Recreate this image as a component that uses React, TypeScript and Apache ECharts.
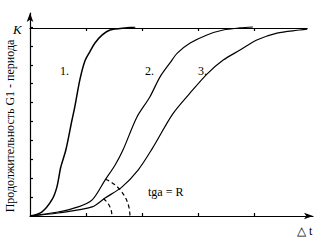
import React, { useEffect, useRef } from "react";
import * as echarts from "echarts";

// Curves: [Δt, G1 duration] in axis units (x tick = 1, y tick = 1, K = 10)
const curve1: number[][] = [
  [0, 0], [0.21, 0.21], [0.39, 0.85], [0.48, 1.53], [0.55, 2.59], [0.64, 3.49],
  [0.75, 5.08], [0.8, 5.77], [0.89, 7.2], [0.98, 8.2], [1.07, 8.7], [1.16, 9.15],
  [1.29, 9.58], [1.43, 9.84], [1.73, 9.96], [1.88, 10],
];
const curve2: number[][] = [
  [0, 0], [0.5, 0.21], [0.86, 0.48], [1.11, 0.85], [1.34, 1.9], [1.52, 2.7],
  [1.66, 3.49], [1.91, 5.24], [2.14, 6.3], [2.32, 7.35], [2.5, 8.1], [2.63, 8.62],
  [2.86, 9.15], [3.16, 9.58], [3.45, 9.84], [3.75, 9.95], [3.98, 10],
];
const curve3: number[][] = [
  [0, 0], [0.5, 0.16], [1.11, 0.48], [1.34, 0.95], [1.64, 1.53], [1.93, 2.43],
  [2.18, 3.55], [2.55, 5.4], [2.86, 6.51], [3.16, 7.51], [3.45, 8.25],
  [3.75, 8.78], [4.05, 9.31], [4.41, 9.68], [4.82, 9.84], [4.95, 9.89],
];
const xTickValues = [1, 2, 3, 4];
const yTickValues = [1, 2, 3, 4, 5, 6, 7, 8, 9, 10];
const kLevel = 10;
const kLineEnd = 4.95;

const yTitle = "Продолжительность G1 - периода";
const kText = "K";
const curveLabels = ["1.", "2.", "3."];
const tgText = "tga = R";
const xTitle = "△ t";

const SERIF = "Liberation Serif";

export default function App() {
  const ref = useRef<HTMLDivElement>(null);
  useEffect(() => {
    document.body.style.margin = "0";
    const chart = echarts.init(ref.current!, null, { renderer: "svg" });
    const lineSeries = (data: number[][], w: number) => ({
      type: "line",
      data,
      smooth: 0.3,
      symbol: "none",
      lineStyle: { color: "#000", width: w },
      xAxisIndex: 0,
      yAxisIndex: 0,
      z: 3,
    });
    chart.setOption({
      animation: false,
      backgroundColor: "#fff",
      grid: [
        { left: 30, top: 13, width: 283, height: 203 },
        { left: 30, top: 27, width: 277.2, height: 1 },
      ],
      xAxis: [
        {
          type: "value", gridIndex: 0, min: 0, max: 283 / 56,
          axisLine: { show: true, symbol: ["none", "arrow"], symbolSize: [5, 9], lineStyle: { color: "#000", width: 1.2 } },
          axisTick: { show: true, inside: true, length: 3, customValues: xTickValues, lineStyle: { color: "#000", width: 1.2 } },
          axisLabel: { show: false },
          splitLine: { show: false },
        },
        {
          type: "value", gridIndex: 1, position: "top", min: 0, max: kLineEnd,
          axisLine: { show: true, lineStyle: { color: "#000", width: 1.2 } },
          axisTick: { show: true, inside: true, length: 3, customValues: xTickValues, lineStyle: { color: "#000", width: 1.2 } },
          axisLabel: { show: false },
          splitLine: { show: false },
        },
      ],
      yAxis: [
        {
          type: "value", gridIndex: 0, min: 0, max: 203 / 18.9,
          axisLine: { show: true, symbol: ["none", "arrow"], symbolSize: [5, 9], lineStyle: { color: "#000", width: 1.2 } },
          axisTick: { show: true, inside: true, length: 3, customValues: yTickValues, lineStyle: { color: "#000", width: 1.2 } },
          axisLabel: { show: false },
          splitLine: { show: false },
        },
        {
          type: "value", gridIndex: 1, min: 0, max: 1, show: false,
        },
      ],
      series: [lineSeries(curve1, 1.5), lineSeries(curve2, 1.2), lineSeries(curve3, 1.2)],
    });

    const center = chart.convertToPixel({ seriesIndex: 0 }, [1.07, 0]) as number[];
    const kPix = chart.convertToPixel({ seriesIndex: 0 }, [0, kLevel]) as number[];
    const arc = (r: number, deg: number) => ({
      type: "arc",
      shape: { cx: center[0], cy: center[1], r, startAngle: (-deg * Math.PI) / 180, endAngle: 0, clockwise: true },
      style: { stroke: "#000", fill: null, lineWidth: 1.2, lineDash: [4, 3] },
      z: 5,
    });
    const txt = (text: string, x: number, y: number, size: number, extra: any = {}) => ({
      type: "text",
      x, y,
      style: {
        text, fill: "#000", fontFamily: SERIF, fontSize: size,
        align: "left", verticalAlign: "middle", ...extra,
      },
      z: 10,
    });
    chart.setOption({
      graphic: [
        arc(22, 52),
        arc(40, 67),
        {
          type: "text", x: 10, y: 126, rotation: Math.PI / 2,
          style: {
            text: yTitle, fill: "#000", fontFamily: SERIF, fontSize: 12,
            align: "center", verticalAlign: "middle",
          },
          z: 10,
        },
        txt(kText, 13, kPix[1] + 2, 13, { fontStyle: "italic" }),
        txt(curveLabels[0], 60, 71, 12),
        txt(curveLabels[1], 145, 71, 12),
        txt(curveLabels[2], 198, 71, 12),
        txt(tgText, 148, 192, 12),
        txt(xTitle, 297, 231, 12),
      ],
    });
    return () => chart.dispose();
  }, []);
  return <div ref={ref} style={{ width: 321, height: 240 }} />;
}
